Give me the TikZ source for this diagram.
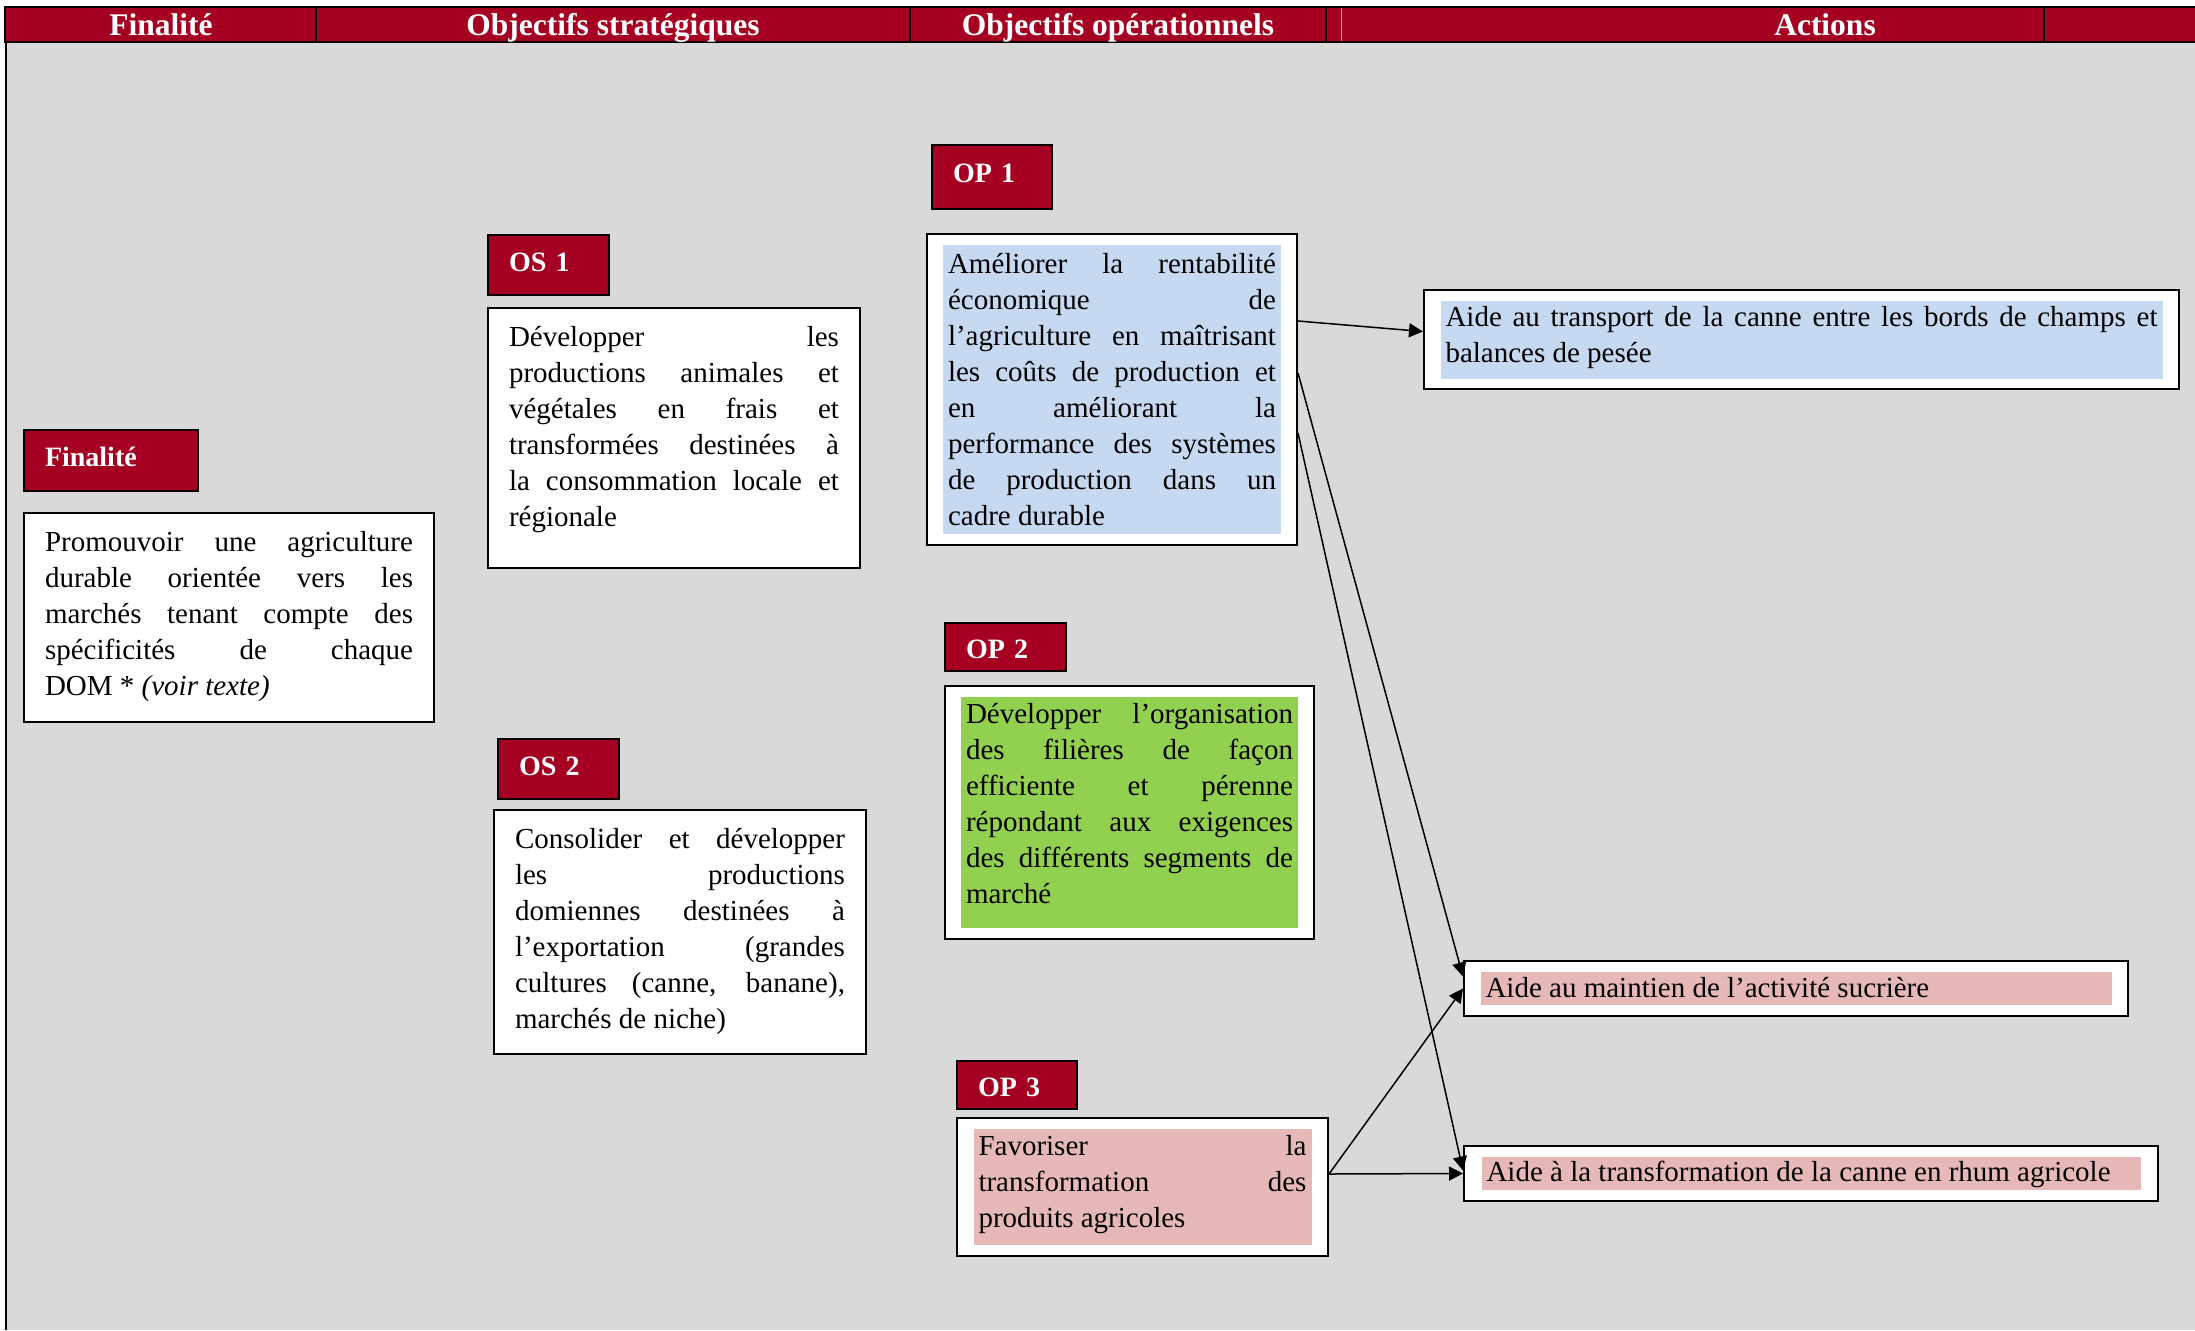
\documentclass[tikz,border=0pt]{standalone}
\usepackage{fontspec}
\setmainfont{Liberation Serif}
\usepackage{xcolor}
\usepackage{tikz}
\usetikzlibrary{arrows.meta, calc}
\definecolor{wine}{HTML}{A50021}
\definecolor{panelgray}{HTML}{D9D9D9}
\definecolor{hlblue}{HTML}{C6D9F1}
\definecolor{hlgreen}{HTML}{92D050}
\definecolor{hlpink}{HTML}{E6B9B8}
\tolerance=10000
\hbadness=10000
\hyphenpenalty=10000
\exhyphenpenalty=10000
\newcommand{\BT}{\fontsize{14.5}{18}\selectfont}
\tikzset{
  hd/.style={font=\bfseries\fontsize{15.75}{18}\selectfont, text=white, inner sep=0pt, anchor=base},
  lbl/.style={rectangle, draw=black, line width=1pt, fill=wine, text=white,
    font=\bfseries\fontsize{14}{17}\selectfont, anchor=north west, align=left,
    inner xsep=10.5pt, inner ysep=0pt},
  wbox/.style={rectangle, draw=black, line width=1pt, fill=white, font=\BT,
    anchor=north west, align=justify, inner xsep=10.5pt, inner ysep=0pt, text height=19pt},
  frm/.style={rectangle, draw=black, line width=1pt, fill=white, anchor=north west, inner sep=0pt},
  hl/.style={rectangle, font=\BT, align=justify, inner xsep=2.5pt, inner ysep=0pt, anchor=center},
  hl/blue/.style={hl, fill=hlblue},
  hl/green/.style={hl, fill=hlgreen},
  hl/pink/.style={hl, fill=hlpink},
  ar/.style={-{Triangle[length=7pt,width=7pt]}, line width=0.75pt},
}

\begin{document}
\begin{tikzpicture}[x=0.5pt, y=-0.5pt]
\useasboundingbox (0,0) rectangle (2195,1330);

% panel and header row
\fill[panelgray] (5,42) rectangle (2195,1330);
\draw[line width=1pt] (6,42) -- (6,1330);
\fill[wine] (5,7) rectangle (2195,42);
\draw[line width=1pt] (2195,7) -- (5,7) -- (5,42) -- (2195,42);
\foreach \xx in {316,910,1326,2044} \draw[line width=1pt] (\xx,7) -- (\xx,42);
\draw[wine!40!white, line width=0.4pt] (1341,8) -- (1341,41);
\node[hd] (hfin) at (161,35) {Finalité};
\node[hd] (hos)  at (613,35) {Objectifs stratégiques};
\node[hd] (hop)  at (1118,35) {Objectifs opérationnels};
\node[hd] (hact) at (1825,35) {Actions};

% finalite
\node[lbl, text width=66pt, text height=18pt, text depth=12.5pt] (finlbl) at (23,429) {Finalité};
\node[wbox, text width=184pt, text depth=85.5pt] (fin) at (23,512)
  {Promouvoir une agriculture\linebreak durable orientée vers les\linebreak marchés tenant compte des\linebreak spécificités de chaque\linebreak DOM * \textit{(voir texte)}};

% objectifs strategiques
\node[lbl, text width=39.5pt, text height=18pt, text depth=12pt] (os1lbl) at (487,234) {OS 1};
\node[wbox, text width=165pt, text depth=111pt] (os1) at (487,307)
  {Développer les\linebreak productions animales et\linebreak végétales en frais et\linebreak transformées destinées à\linebreak la consommation locale et\linebreak régionale};
\node[lbl, text width=39.5pt, text height=18pt, text depth=12pt] (os2lbl) at (497,738) {OS 2};
\node[wbox, text width=165pt, text depth=103pt] (os2) at (493,809)
  {Consolider et développer\linebreak les productions\linebreak domiennes destinées à\linebreak l’exportation (grandes\linebreak cultures (canne, banane),\linebreak marchés de niche)};

% objectifs operationnels
\node[lbl, text width=39pt, text height=18.5pt, text depth=13.5pt] (op1lbl) at (931,144) {OP 1};
\node[frm, minimum width=185pt, minimum height=155.5pt] (op1) at (926,233) {};
\node[hl/blue, text width=164pt, text height=14pt, text depth=130.5pt] (op1txt) at (op1.center)
  {Améliorer la rentabilité\linebreak économique de\linebreak l’agriculture en maîtrisant\linebreak les coûts de production et\linebreak en améliorant la\linebreak performance des systèmes\linebreak de production dans un\linebreak cadre durable};

\node[lbl, text width=39.5pt, text height=17.5pt, text depth=6.5pt] (op2lbl) at (944,622) {OP 2};
\node[frm, minimum width=184.5pt, minimum height=126.5pt] (op2) at (944,685) {};
\node[hl/green, text width=163.5pt, text height=13.3pt, text depth=102.5pt] (op2txt) at (op2.center)
  {Développer l’organisation\linebreak des filières de façon\linebreak efficiente et pérenne\linebreak répondant aux exigences\linebreak des différents segments de\linebreak marché};

\node[lbl, text width=39pt, text height=17.5pt, text depth=6.5pt] (op3lbl) at (956,1060) {OP 3};
\node[frm, minimum width=185.5pt, minimum height=69pt] (op3) at (956,1117) {};
\node[hl/pink, text width=164pt, text height=13pt, text depth=45pt] (op3txt) at (op3.center)
  {Favoriser la\linebreak transformation des\linebreak produits agricoles};

% actions
\node[frm, minimum width=377.5pt, minimum height=49.5pt] (act1) at (1423,289) {};
\node[hl/blue, text width=356pt, text height=13pt, text depth=26pt] (act1txt) at (act1.center)
  {Aide au transport de la canne entre les bords de champs et\linebreak balances de pesée};
\node[frm, minimum width=332pt, minimum height=27.5pt] (act2) at (1463,960) {};
\node[hl/pink, text width=310.5pt, text height=12.5pt, text depth=4pt] (act2txt) at (act2.center)
  {Aide au maintien de l’activité sucrière};
\node[frm, minimum width=347pt, minimum height=27.5pt] (act3) at (1463,1145) {};
\node[hl/pink, text width=324.5pt, text height=12pt, text depth=4.5pt] (act3txt) at (act3.center)
  {Aide à la transformation de la canne en rhum agricole};

% liens
\draw[ar] ($(op1.east)+(0,-68.5)$) -- ($(act1.west)+(0,-8)$);
\draw[ar] ($(op1.east)+(0,-16.5)$) -- ($(act2.west)+(0,-12)$);
\draw[ar] ($(op1.east)+(0,43.5)$) -- ($(act3.west)+(0,-3)$);
\draw[ar] ($(op3.east)+(0,-13)$) -- (act2.west);
\draw[ar] ($(op3.east)+(0,-13)$) -- (act3.west);
\end{tikzpicture}
\end{document}
